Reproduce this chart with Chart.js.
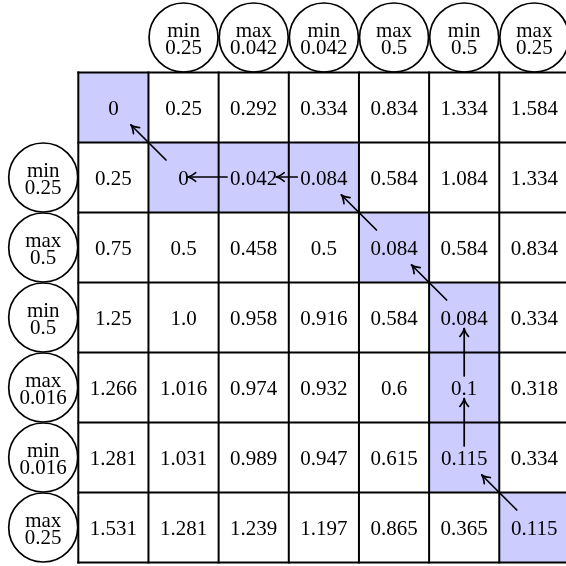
<!DOCTYPE html>
<html>
<head>
<meta charset="utf-8">
<script src="https://cdn.jsdelivr.net/npm/chart.js@4/dist/chart.umd.min.js"></script>
<style>
html,body{margin:0;padding:0;background:#fff;}
#wrap{width:566px;height:566px;position:relative;}
</style>
</head>
<body>
<div id="wrap"><canvas id="c"></canvas></div>
<script>
// ---- data ----
const colLabels = [['min','0.25'],['max','0.042'],['min','0.042'],['max','0.5'],['min','0.5'],['max','0.25']];
const rowLabels = [['min','0.25'],['max','0.5'],['min','0.5'],['max','0.016'],['min','0.016'],['max','0.25']];
const costRow0 = [0, 0.25, 0.292, 0.334, 0.834, 1.334, 1.584];
const costRow1 = [0.25, 0, 0.042, 0.084, 0.584, 1.084, 1.334];
const costRow2 = [0.75, 0.5, 0.458, 0.5, 0.084, 0.584, 0.834];
const costRow3 = [1.25, 1.0, 0.958, 0.916, 0.584, 0.084, 0.334];
const costRow4 = [1.266, 1.016, 0.974, 0.932, 0.6, 0.1, 0.318];
const costRow5 = [1.281, 1.031, 0.989, 0.947, 0.615, 0.115, 0.334];
const costRow6 = [1.531, 1.281, 1.239, 1.197, 0.865, 0.365, 0.115];
const costRows = [costRow0, costRow1, costRow2, costRow3, costRow4, costRow5, costRow6];
// warping path as [column, row]
const warpPath = [[0,0],[1,1],[2,1],[3,1],[4,2],[5,3],[5,4],[5,5],[6,6]];

// ---- styling ----
const HIGHLIGHT = '#ccccff';
const FONT = '21px "Liberation Serif", "DejaVu Serif", serif';
const fmt = v => (Number.isInteger(v) && v !== 0) ? v.toFixed(1) : String(v);
const onPath = (c, r) => warpPath.some(p => p[0] === c && p[1] === r);

const cellData = [], cellColors = [];
costRows.forEach((row, r) => row.forEach((v, c) => {
  cellData.push({x: c + 0.5, y: [r, r + 1], v: v, c: c, r: r});
  cellColors.push(onPath(c, r) ? HIGHLIGHT : '#ffffff');
}));
const circleData = colLabels.map((l, i) => ({x: i + 1.5, y: -0.5, lab: l}))
  .concat(rowLabels.map((l, i) => ({x: -0.5, y: i + 1.5, lab: l})));

const intTicks = scale => { const t = []; for (let v = -1; v <= 7; v++) t.push({value: v}); scale.ticks = t; };

const dtwPlugin = {
  id: 'dtw',
  afterDatasetsDraw(chart) {
    const ctx = chart.ctx, xs = chart.scales.x, ys = chart.scales.y;
    const px = v => xs.getPixelForValue(v), py = v => ys.getPixelForValue(v);
    ctx.save();
    // grid lines
    ctx.strokeStyle = '#000'; ctx.lineWidth = 2; ctx.lineCap = 'square';
    for (let i = 0; i <= 7; i++) {
      ctx.beginPath(); ctx.moveTo(px(i), py(0)); ctx.lineTo(px(i), py(7)); ctx.stroke();
      ctx.beginPath(); ctx.moveTo(px(0), py(i)); ctx.lineTo(px(7), py(i)); ctx.stroke();
    }
    // cell text
    ctx.font = FONT; ctx.fillStyle = '#000'; ctx.textAlign = 'center'; ctx.textBaseline = 'alphabetic';
    cellData.forEach(d => {
      ctx.fillText(fmt(d.v), px(d.x), py(d.r + 0.5) + 7);
    });
    // circle labels
    circleData.forEach(d => {
      const cx = px(d.x), cy = py(d.y);
      ctx.fillText(d.lab[0], cx, cy - 1);
      ctx.fillText(d.lab[1], cx, cy + 16.5);
    });
    // arrows
    ctx.lineWidth = 1.7; ctx.lineCap = 'round'; ctx.lineJoin = 'round';
    const halfW = (c, r) => ctx.measureText(fmt(costRows[r][c])).width / 2;
    for (let i = warpPath.length - 1; i > 0; i--) {
      const [c1, r1] = warpPath[i], [c0, r0] = warpPath[i - 1];
      const x1c = px(c1 + 0.5), y1c = py(r1 + 0.5), x0c = px(c0 + 0.5), y0c = py(r0 + 0.5);
      let x1, y1, x2, y2;
      if (c1 !== c0 && r1 !== r0) {
        x1 = x1c + 0.25 * (x0c - x1c); y1 = y1c + 0.25 * (y0c - y1c);
        x2 = x1c + 0.75 * (x0c - x1c); y2 = y1c + 0.75 * (y0c - y1c);
      } else if (r1 === r0) {
        y1 = y2 = y1c - 0.5;
        x1 = x1c - halfW(c1, r1) - 3; x2 = x0c + halfW(c0, r0) - 1;
      } else {
        x1 = x2 = x1c;
        y1 = y1c - 11.5; y2 = y0c + 11;
      }
      ctx.beginPath(); ctx.moveTo(x1, y1); ctx.lineTo(x2, y2); ctx.stroke();
      const a = Math.atan2(y2 - y1, x2 - x1), L = 9, w = 0.5;
      ctx.beginPath();
      ctx.moveTo(x2 - L * Math.cos(a - w), y2 - L * Math.sin(a - w));
      ctx.quadraticCurveTo(x2 - 3 * Math.cos(a - 0.15), y2 - 3 * Math.sin(a - 0.15), x2, y2);
      ctx.quadraticCurveTo(x2 - 3 * Math.cos(a + 0.15), y2 - 3 * Math.sin(a + 0.15), x2 - L * Math.cos(a + w), y2 - L * Math.sin(a + w));
      ctx.stroke();
    }
    ctx.restore();
  }
};

new Chart(document.getElementById('c'), {
  type: 'bar',
  data: {
    datasets: [
      {
        type: 'bar', data: cellData, backgroundColor: cellColors,
        borderWidth: 0, barPercentage: 1, categoryPercentage: 1, order: 2
      },
      {
        type: 'scatter', data: circleData, pointStyle: 'circle', pointRadius: 34.5,
        pointHoverRadius: 34.5, backgroundColor: '#ffffff', borderColor: '#000000',
        pointBorderWidth: 1.7, borderWidth: 1.7, showLine: false, order: 1, clip: false
      }
    ]
  },
  options: {
    responsive: true, maintainAspectRatio: false, animation: false,
    layout: {padding: 0, autoPadding: false},
    plugins: {legend: {display: false}, tooltip: {enabled: false}},
    events: [],
    scales: {
      x: {type: 'linear', min: -1.116, max: 6.951, display: false, afterBuildTicks: intTicks, offset: false},
      y: {type: 'linear', min: -1.036, max: 7.05, reverse: true, display: false, afterBuildTicks: intTicks}
    }
  },
  plugins: [dtwPlugin]
});
</script>
</body>
</html>
